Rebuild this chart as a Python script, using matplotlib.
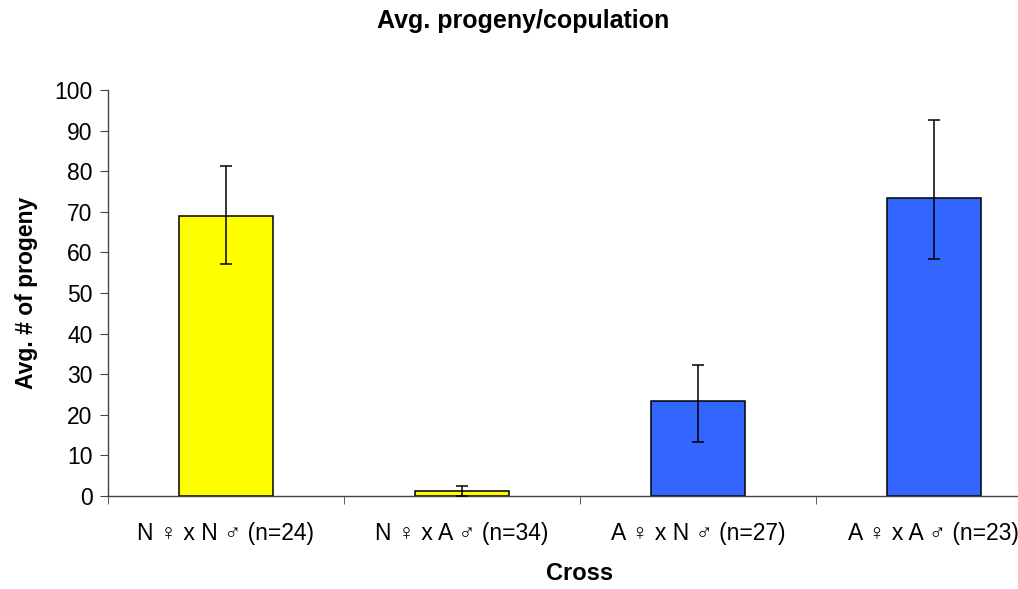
import matplotlib.pyplot as plt
import numpy as np

plt.rcParams['font.family'] = ['Liberation Sans', 'DejaVu Sans']

crosses = ['N \u2640 x N \u2642 (n=24)', 'N \u2640 x A \u2642 (n=34)',
           'A \u2640 x N \u2642 (n=27)', 'A \u2640 x A \u2642 (n=23)']
avg_progeny = [69.0, 1.3, 23.5, 73.3]
err_low = [11.8, 1.2, 10.1, 14.9]
err_high = [12.3, 1.2, 8.8, 19.3]
colors = ['#FFFF00', '#FFFF00', '#3366FF', '#3366FF']

fig = plt.figure(figsize=(10.18, 5.89), dpi=100)
ax = fig.add_axes([0.106, 0.158, 0.9273, 0.689])

x = np.arange(len(crosses))
ax.bar(x, avg_progeny, width=0.40, color=colors, edgecolor='black',
       linewidth=1.1, zorder=2)
ax.errorbar(x, avg_progeny, yerr=[err_low, err_high], fmt='none',
            ecolor='black', elinewidth=1.1, capsize=4.5, capthick=1.1,
            zorder=3)

ax.set_xlim(-0.5, len(crosses) - 0.5)
ax.set_ylim(0, 100)
ax.set_yticks(np.arange(0, 101, 10))

# labels at category centres, tick marks at category boundaries
ax.set_xticks(x)
ax.set_xticklabels(crosses, fontsize=16.5)
ax.set_xticks(np.arange(-0.5, len(crosses), 1), minor=True)
ax.tick_params(axis='x', which='major', length=0, pad=19)
ax.tick_params(axis='x', which='minor', length=6, direction='out',
               color='#444444')
ax.tick_params(axis='y', length=6, direction='out', labelsize=16.5,
               color='#444444', pad=5)

for side in ['top', 'right']:
    ax.spines[side].set_visible(False)
for side in ['left', 'bottom']:
    ax.spines[side].set_color('#444444')
    ax.spines[side].set_linewidth(1.0)

ax.set_xlabel('Cross', fontsize=17, fontweight='bold', labelpad=12)
ax.set_ylabel('Avg. # of progeny', fontsize=16.5, fontweight='bold',
              labelpad=12)
fig.suptitle('Avg. progeny/copulation', x=0.514, y=0.985, fontsize=18,
             fontweight='bold')

fig.savefig('out.png', dpi=100)
